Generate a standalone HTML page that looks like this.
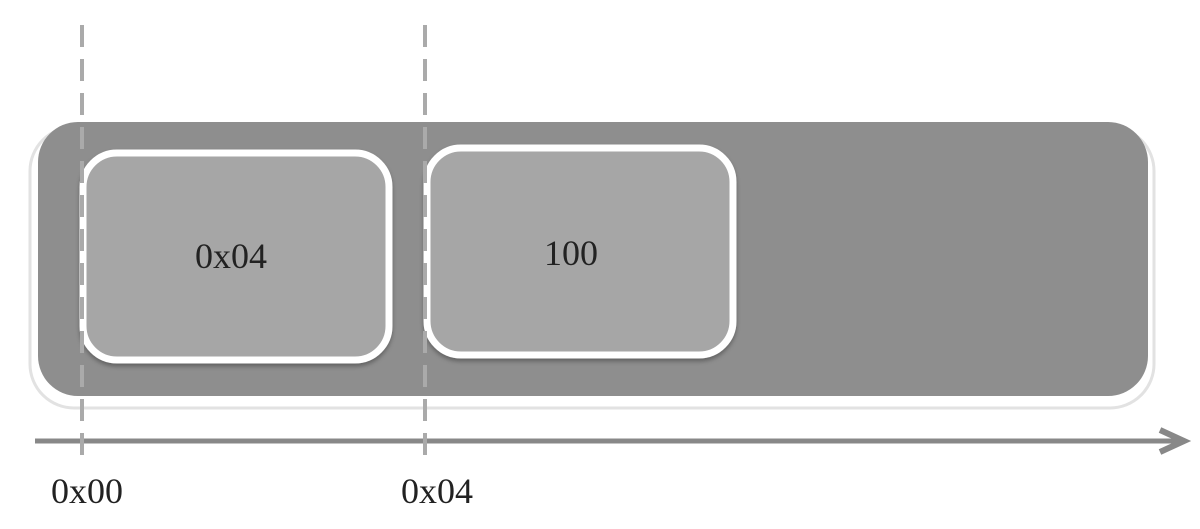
<!DOCTYPE html>
<html><head><meta charset="utf-8"><style>
html,body{margin:0;padding:0;background:#fff;width:1200px;height:529px;overflow:hidden}
text{font-family:"Liberation Serif",serif;fill:#222}
</style></head><body>
<svg width="1200" height="529" viewBox="0 0 1200 529">
<defs><filter id="sh" x="-5%" y="-5%" width="110%" height="115%"><feDropShadow dx="0" dy="3" stdDeviation="2" flood-color="#000" flood-opacity="0.3"/></filter></defs>
<rect x="30" y="127" width="1124" height="281" rx="44" fill="none" stroke="#e2e2e2" stroke-width="3"/>
<rect x="38" y="122" width="1110" height="274" rx="40" fill="#8e8e8e"/>
<rect x="83" y="153" width="306" height="207" rx="34" fill="#a6a6a6" stroke="#fff" stroke-width="7" filter="url(#sh)"/>
<rect x="427" y="148" width="306" height="207" rx="34" fill="#a6a6a6" stroke="#fff" stroke-width="7" filter="url(#sh)"/>
<text x="231" y="268" font-size="36" text-anchor="middle">0x04</text>
<text x="571" y="265" font-size="36" text-anchor="middle">100</text>
<line x1="35" y1="441" x2="1180" y2="441" stroke="#888" stroke-width="5"/>
<path d="M1160 430 L1184 441 L1160 452" fill="none" stroke="#888" stroke-width="6" stroke-linejoin="miter"/>
<line x1="82" y1="25" x2="82" y2="455" stroke="#aaa" stroke-width="4" stroke-dasharray="22 12"/>
<line x1="425" y1="25" x2="425" y2="455" stroke="#aaa" stroke-width="4" stroke-dasharray="22 12"/>
<text x="51" y="503" font-size="36">0x00</text>
<text x="401" y="503" font-size="36">0x04</text>
</svg>
</body></html>
